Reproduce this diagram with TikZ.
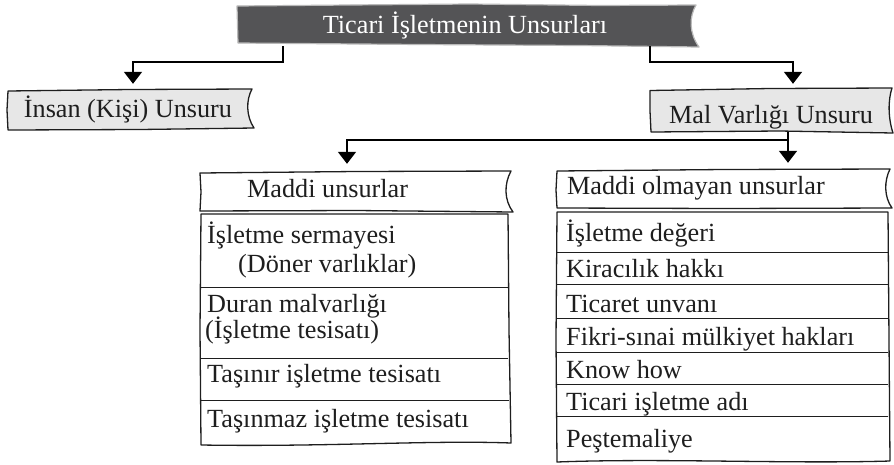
\documentclass[tikz,border=0pt]{standalone}
\usepackage{fontspec}
\setmainfont{Liberation Serif}
\usetikzlibrary{arrows.meta}
\definecolor{titlegray}{RGB}{84,84,86}
\definecolor{boxgray}{RGB}{231,231,231}
\definecolor{ink}{RGB}{30,30,30}
\begin{document}
\begin{tikzpicture}[x=1pt,y=-1pt,
  txt/.style={inner sep=0pt, font=\fontsize{26.2}{30}\selectfont, text=ink},
  boxn/.style={draw=none, inner sep=0pt, rectangle},
  outline/.style={draw=ink, line width=1.3pt, line join=round},
  divider/.style={draw=ink, line width=1pt},
  conn/.style={draw=black, line width=1.8pt, -{Triangle[width=18pt,length=12pt]}}]
\useasboundingbox (0,0) rectangle (894,464);

% ---- outlines ----
\path[fill=titlegray, draw=gray!55, line width=1.2pt, line join=round]
  (237,6) -- (350,5) -- (470,4) -- (600,5.5) -- (696,5)
  .. controls (689,17) and (689,33) .. (699,47)
  -- (580,45.5) -- (420,44.5) -- (238,43) -- (237.5,25) -- cycle;
\path[fill=boxgray, outline]
  (8,91) -- (130,89.5) -- (252,89)
  .. controls (246,100) and (246,116) .. (254,128)
  -- (140,129.5) -- (8,130) -- (7,110) -- cycle;
\path[fill=boxgray, outline]
  (650,90.5) -- (770,88.5) -- (892,88)
  .. controls (888,100) and (888,118) .. (893,133)
  -- (780,131) -- (651,132) -- (650,111) -- cycle;
\path[fill=white, outline]
  (200,173) -- (356,171.5) -- (511,171)
  .. controls (504,184) and (504,200) .. (513,212)
  -- (356,210.5) -- (200,211) -- (201,192) -- cycle;
\path[outline]
  (201,214) -- (508,214) -- (509,330) -- (511,443)
  .. controls (430,440) and (330,447) .. (201,445) -- (200,330) -- cycle;
\draw[divider] (201,287) -- (508,287);
\draw[divider] (201,358) -- (508,358);
\draw[divider] (201,400) -- (509,400);
\path[fill=white, outline]
  (557,171) -- (724,169.5) -- (890,169)
  .. controls (884,181) and (884,197) .. (892,208)
  -- (724,208.5) -- (557,208) -- (556,190) -- cycle;
\path[outline]
  (557,212) -- (888,212) -- (889,340) -- (890,461)
  .. controls (790,464) and (660,458) .. (557,462) -- (556,340) -- cycle;
\foreach \yy in {252,284,318,352,384,416} \draw[divider] (557,\yy) -- (888,\yy);

% ---- box nodes ----
\node[boxn, minimum width=460pt, minimum height=41pt] (title) at (467,25.5) {};
\node[boxn, minimum width=244pt, minimum height=39pt] (insan) at (130,109.5) {};
\node[boxn, minimum width=243pt, minimum height=42pt] (mal) at (771.5,111) {};
\node[boxn, minimum width=312pt, minimum height=40pt] (lhead) at (356,192) {};
\node[boxn, minimum width=334pt, minimum height=38pt] (rhead) at (724,189) {};

% ---- texts ----
\node[txt, text=white, anchor=base] (titletxt) at (465,33) {Ticari İşletmenin Unsurları};
\node[txt, anchor=base] (insantxt) at (128,117) {İnsan (Kişi) Unsuru};
\node[txt, anchor=base] (maltxt) at (771,123) {Mal Varlığı Unsuru};
\node[txt, anchor=base west] (lheadtxt) at (247,197) {Maddi unsurlar};
\node[txt, anchor=base west] (rheadtxt) at (567,194) {Maddi olmayan unsurlar};

\node[txt, anchor=base west] (l1a) at (207,243) {İşletme sermayesi};
\node[txt, anchor=base west] (l1b) at (238,272) {(Döner varlıklar)};
\node[txt, anchor=base west] (l2a) at (207,312) {Duran malvarlığı};
\node[txt, anchor=base west] (l2b) at (205,338) {(İşletme tesisatı)};
\node[txt, anchor=base west] (l3) at (207,382) {Taşınır işletme tesisatı};
\node[txt, anchor=base west] (l4) at (207,427) {Taşınmaz işletme tesisatı};

\node[txt, anchor=base west] (r1) at (566,241) {İşletme değeri};
\node[txt, anchor=base west] (r2) at (566,277) {Kiracılık hakkı};
\node[txt, anchor=base west] (r3) at (566,312) {Ticaret unvanı};
\node[txt, anchor=base west] (r4) at (566,345) {Fikri-sınai mülkiyet hakları};
\node[txt, anchor=base west] (r5) at (566,378) {Know how};
\node[txt, anchor=base west] (r6) at (566,410) {Ticari işletme adı};
\node[txt, anchor=base west] (r7) at (566,447) {Peştemaliye};

% ---- connectors ----
\draw[conn] ([xshift=-184pt]title.south) -- ++(0,16) -| ([xshift=3pt,yshift=6pt]insan.north);
\draw[conn] ([xshift=183pt]title.south) -- ++(0,16) -| ([xshift=21.5pt,yshift=6pt]mal.north);
\draw[conn] ([xshift=16.5pt]mal.south) -- ([xshift=64pt,yshift=7pt]rhead.north);
\draw[conn] ([xshift=16.5pt,yshift=-8pt]mal.south) -| ([xshift=-9pt,yshift=8pt]lhead.north);
\end{tikzpicture}
\end{document}
